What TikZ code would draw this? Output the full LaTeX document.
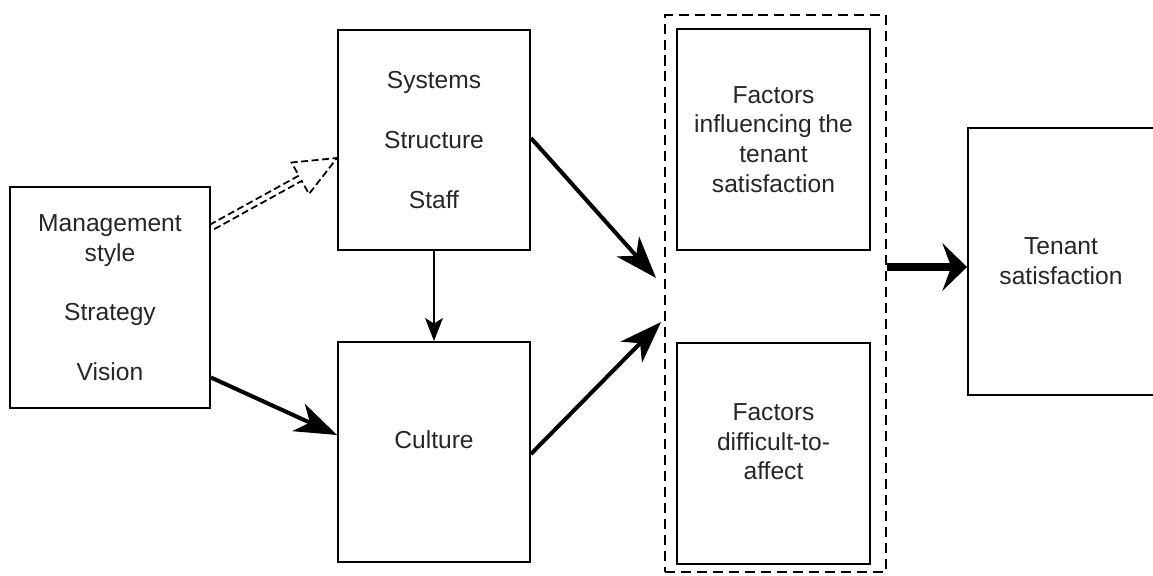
\documentclass[tikz,border=0pt]{standalone}
\usepackage{fontspec}
\setmainfont{Liberation Sans}
\usetikzlibrary{arrows.meta,calc}

\tikzset{
  block/.style={rectangle, draw, line width=1.1pt, align=center, text=black!85, font=\fontsize{14}{17}\selectfont},
  lowtext/.style={text depth=13.6pt},
  groupbox/.style={rectangle, draw, line width=1.1pt, dash pattern=on 5.7pt off 3.4pt},
  heavyarrow/.style={line width=2.3pt, -{Stealth[length=24pt,width=17pt,inset=7pt]}},
  flexdash/.style={line width=1pt, dash pattern=on 4pt off 2pt, line join=miter},
}

\begin{document}
\begin{tikzpicture}[x=0.02cm, y=-0.02cm]
\useasboundingbox (0,0) rectangle (1153,575);
\node at (110,297.5) [block, minimum width=4cm, minimum height=4.42cm] (mgmt) {Management\\style\\[17pt]Strategy\\[17pt]Vision};
\node at (434,140) [block, minimum width=3.84cm, minimum height=4.4cm] (systems) {Systems\\[17pt]Structure\\[17pt]Staff};
\node at (434,452) [block, lowtext, minimum width=3.84cm, minimum height=4.4cm] (culture) {Culture};
\node at (775.5,293.5) [groupbox, minimum width=4.42cm, minimum height=11.14cm] (group) {};
\node at (773.5,139.5) [block, minimum width=3.86cm, minimum height=4.42cm] (influence) {Factors\\influencing the\\tenant\\satisfaction};
\node at (773.5,453.5) [block, lowtext, minimum width=3.86cm, minimum height=4.42cm] (difficult) {Factors\\difficult-to-\\affect};
\node at (1061,261.5) [block, minimum width=3.72cm, minimum height=5.34cm] (tenant) {Tenant\\satisfaction};
% dashed hollow arrow
\coordinate (dsrc) at ([yshift=1.4cm]mgmt.east);
\coordinate (dtip) at ([yshift=-0.36cm]systems.west);
\coordinate (dbase) at ($(dtip)!0.84cm!(dsrc)$);
\draw[flexdash] ($(dsrc)!0.06cm!90:(dtip)$) -- ($(dbase)!0.06cm!-90:(dsrc)$) -- ($(dbase)!0.36cm!-90:(dsrc)$) -- (dtip)
  -- ($(dbase)!0.36cm!90:(dsrc)$) -- ($(dbase)!0.06cm!90:(dsrc)$) -- ($(dsrc)!0.06cm!-90:(dtip)$);
\draw ([yshift=-1.6cm]mgmt.east)[heavyarrow] -- ([yshift=0.34cm]culture.west);
\draw (systems.south)[line width=1.7pt, -{Stealth[length=13pt,width=10pt,inset=3pt]}] -- (culture.north);
\draw ([yshift=0.04cm]systems.east)[heavyarrow] -- ([xshift=-0.16cm,yshift=0.31cm]group.west);
\draw ([yshift=-0.04cm]culture.east)[heavyarrow] -- ([xshift=-0.06cm,yshift=-0.57cm]group.west);
\draw ([yshift=0.53cm]group.east)[line width=4.5pt, -{Stealth[length=14pt,width=27pt,inset=5pt]}] -- ([yshift=0.53cm]group.east -| tenant.west);
\end{tikzpicture}
\end{document}
